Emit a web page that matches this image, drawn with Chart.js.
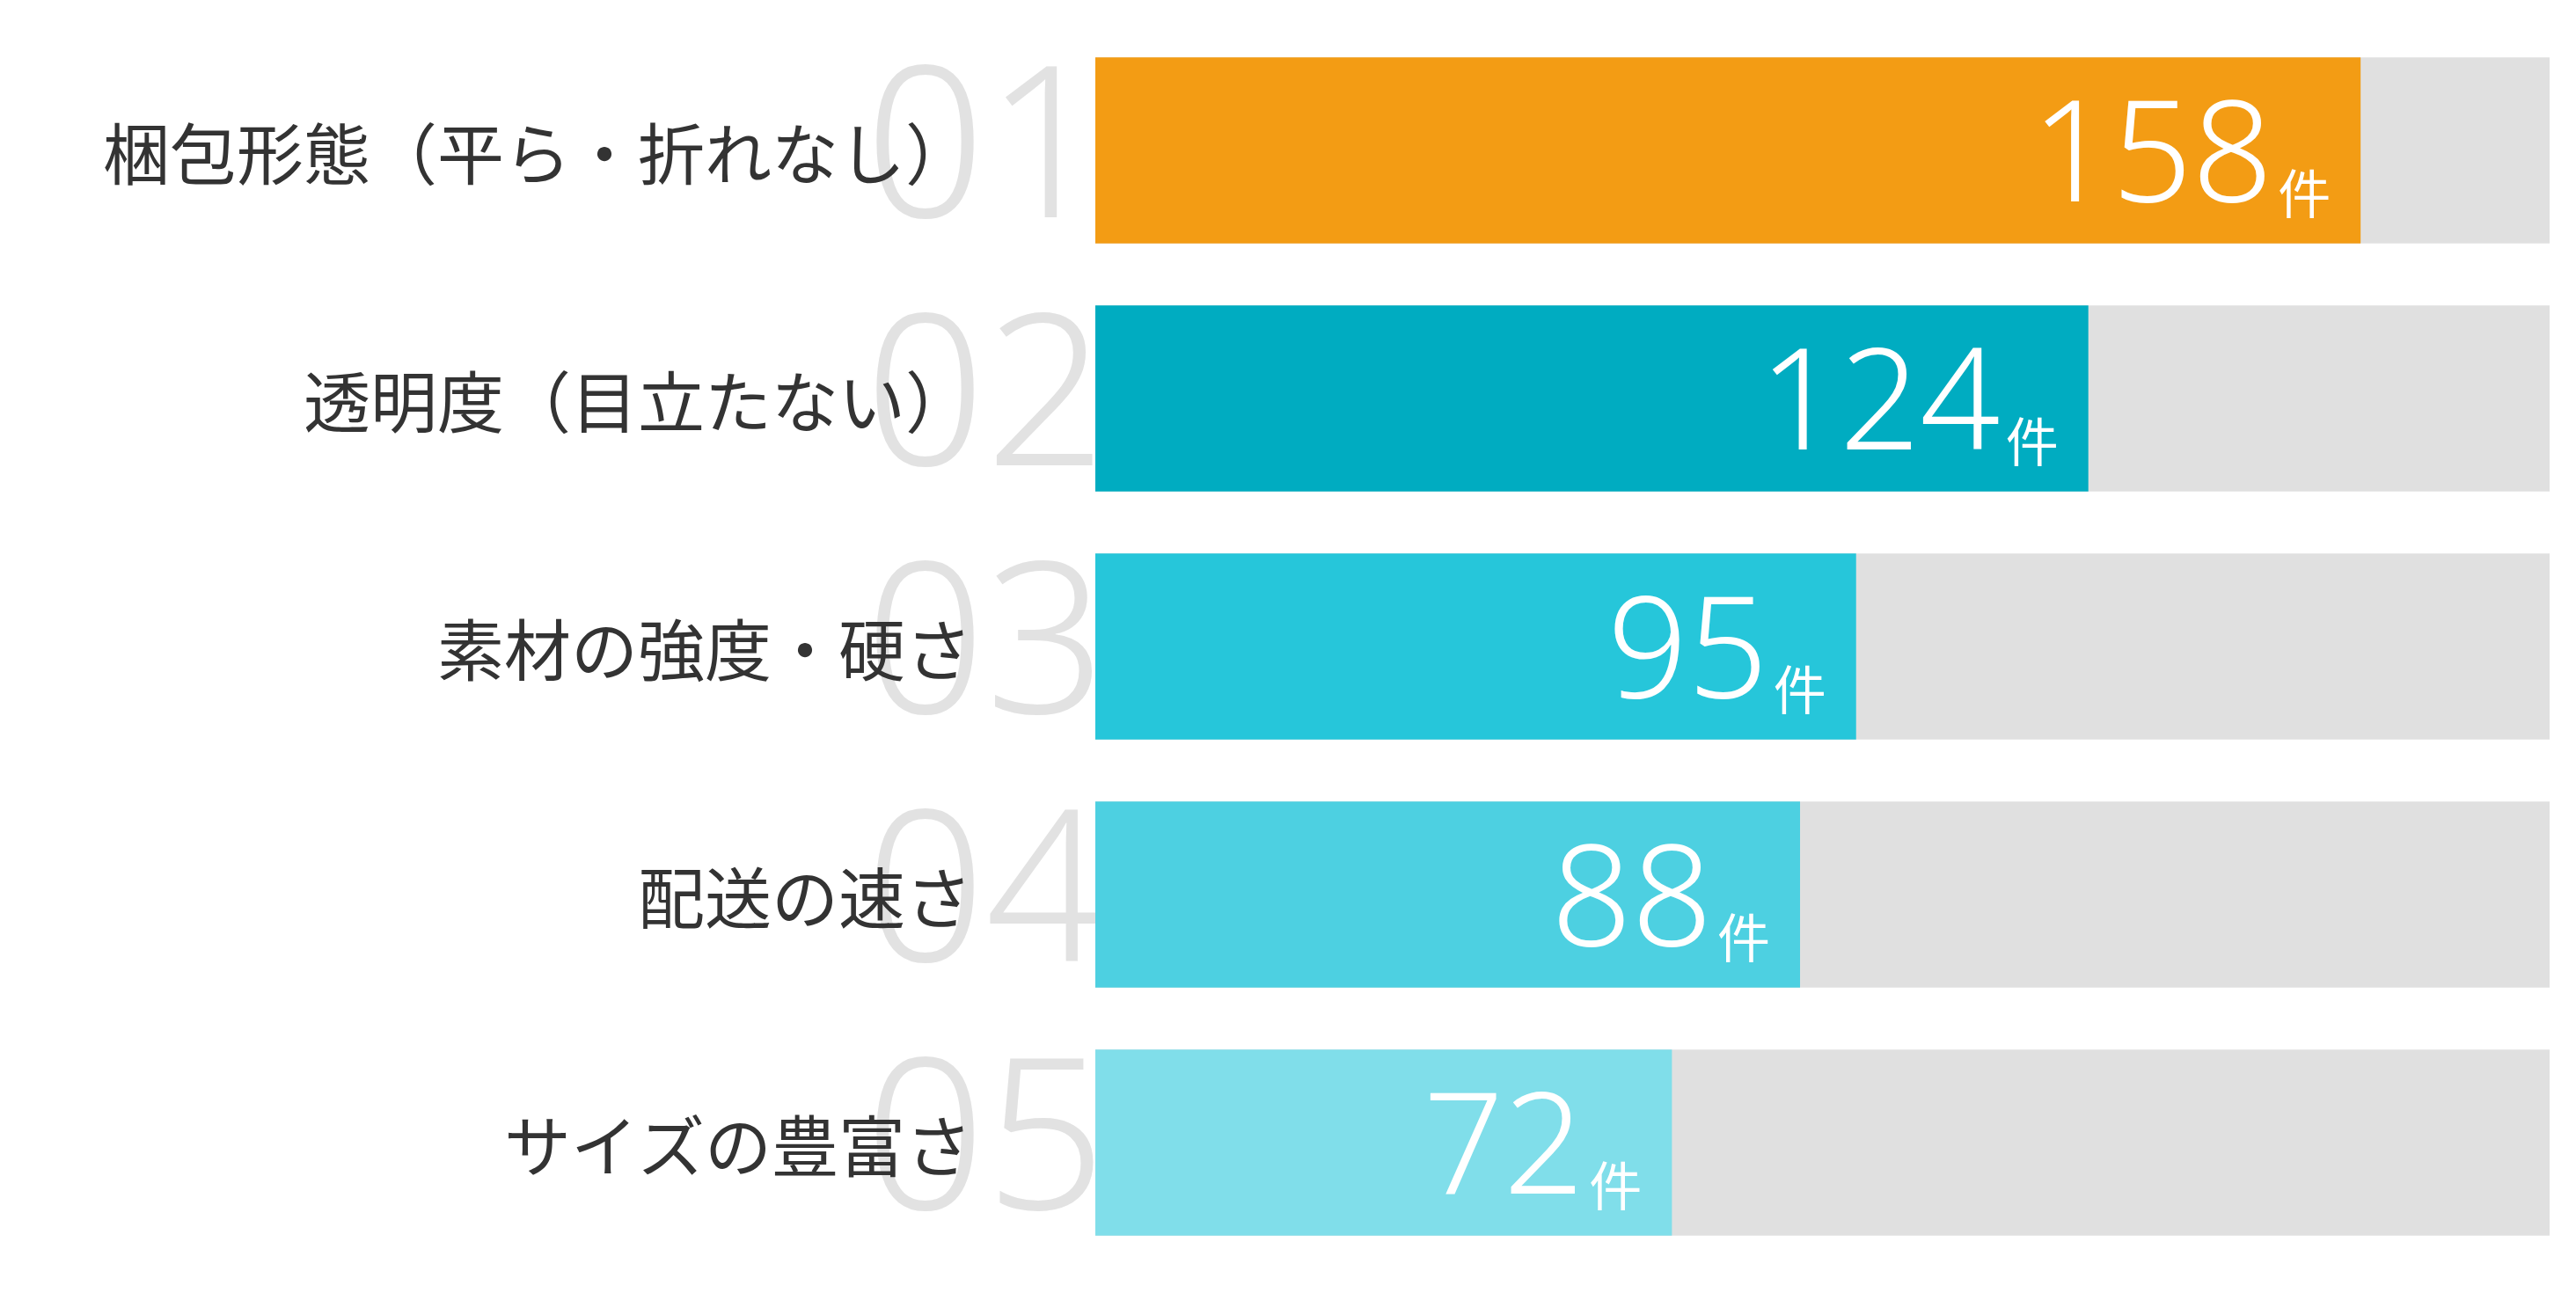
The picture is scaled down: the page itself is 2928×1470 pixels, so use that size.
<!DOCTYPE html>
<html>
<head>
<meta charset="utf-8">
<script src="https://cdn.jsdelivr.net/npm/chart.js@4"></script>
<style>
  html, body { margin: 0; padding: 0; background: #fff; }
  #wrap { width: 2928px; height: 1470px; }
</style>
</head>
<body>
<div id="wrap"><canvas id="chart" width="2928" height="1470"></canvas></div>
<script>
// data van de grafiek
const categories = ['梱包形態（平ら・折れなし）', '透明度（目立たない）', '素材の強度・硬さ', '配送の速さ', 'サイズの豊富さ'];
const ranks = ['01', '02', '03', '04', '05'];
const counts = [158, 124, 95, 88, 72];
const trackMax = 181.6;
const barColors = ['#F39C14', '#00ACC1', '#26C6DA', '#4DD0E1', '#80DEEA'];

const jp = '"Noto Sans CJK JP", "Noto Sans", sans-serif';

// grote grijze nummers en labels links van de balken
const sidePlugin = {
  id: 'side',
  beforeDatasetsDraw(chart) {
    const ctx = chart.ctx;
    const meta = chart.getDatasetMeta(1);
    const left = chart.chartArea.left;
    ctx.save();
    meta.data.forEach((bar, i) => {
      ctx.fillStyle = '#E2E2E2';
      ctx.font = '300 240px "Noto Sans", sans-serif';
      ctx.textAlign = 'right';
      ctx.textBaseline = 'middle';
      ctx.fillText(ranks[i], left + 12, bar.y + 8);
      ctx.fillStyle = '#333333';
      ctx.font = '400 76px ' + jp;
      ctx.fillText(categories[i], 1105, bar.y + 4);
    });
    ctx.restore();
  },
  afterDatasetsDraw(chart) {
    const ctx = chart.ctx;
    const meta = chart.getDatasetMeta(1);
    ctx.save();
    ctx.fillStyle = '#ffffff';
    ctx.textBaseline = 'alphabetic';
    meta.data.forEach((bar, i) => {
      const endX = bar.x - 34;
      ctx.font = '400 60px ' + jp;
      ctx.textAlign = 'right';
      const w = ctx.measureText('件').width;
      ctx.fillText('件', endX, bar.y + 72);
      ctx.font = '300 160px "Noto Sans", sans-serif';
      ctx.fillText(String(counts[i]), endX - w - 6, bar.y + 58);
    });
    ctx.restore();
  }
};

new Chart(document.getElementById('chart').getContext('2d'), {
  type: 'bar',
  data: {
    labels: categories,
    datasets: [
      {
        data: counts.map(() => trackMax),
        backgroundColor: '#E0E0E0',
        grouped: false,
        order: 2,
        categoryPercentage: 1,
        barPercentage: 0.75
      },
      {
        data: counts,
        backgroundColor: barColors,
        grouped: false,
        order: 1,
        categoryPercentage: 1,
        barPercentage: 0.75
      }
    ]
  },
  options: {
    indexAxis: 'y',
    responsive: false,
    animation: false,
    layout: { padding: { left: 1245, right: 30, top: 30, bottom: 30 } },
    plugins: { legend: { display: false }, tooltip: { enabled: false } },
    scales: {
      x: { display: false, min: 0, max: trackMax },
      y: { display: false }
    }
  },
  plugins: [sidePlugin]
});
</script>
</body>
</html>
